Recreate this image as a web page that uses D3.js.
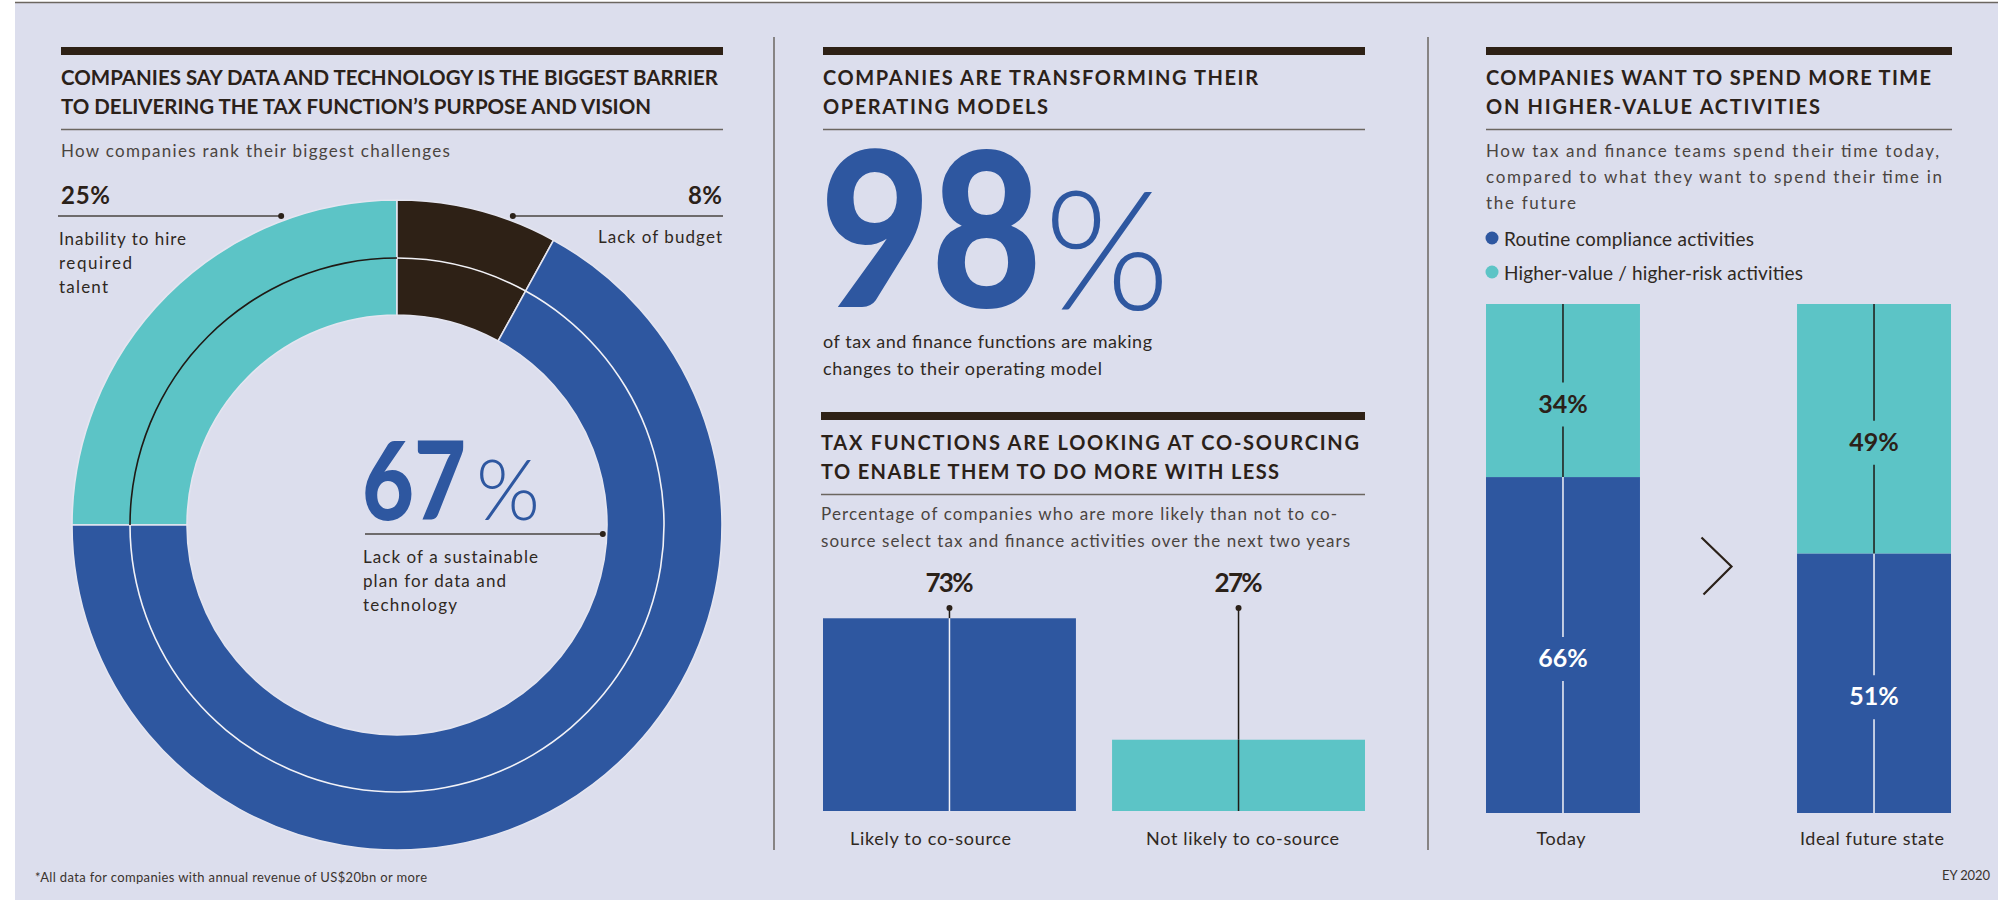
<!DOCTYPE html>
<html>
<head>
<meta charset="utf-8">
<script src="https://cdn.jsdelivr.net/npm/d3@7"></script>
<style>
  html, body { margin: 0; padding: 0; background: #ffffff; }
  svg { display: block; font-family: Lato, "Open Sans", sans-serif; }
</style>
</head>
<body>
<svg id="chart" width="1998" height="900"></svg>
<script>
// ---- Data -------------------------------------------------------------
// Biggest challenges (donut), clockwise from nine o'clock
const challengeLabels = ["Inability to hire required talent", "Lack of budget", "Lack of a sustainable plan for data and technology"];
const challengeValues = [25, 8, 67];

// Operating model headline figure
const operatingModelShare = 98;

// Co-sourcing intentions
const cosourceCategories = ["Likely to co-source", "Not likely to co-source"];
const cosourceValues = [73, 27];

// Time allocation, today vs ideal
const timeCategories = ["Today", "Ideal future state"];
const timeSeries = ["Routine compliance activities", "Higher-value / higher-risk activities"];
const routineShare = [66, 51];
const higherValueShare = [34, 49];

// ---- Styling ----------------------------------------------------------
const BG = "#dcdeed";
const INK = "#2b2119";
const SUB = "#4a443f";
const RULE = "#6b6660";
const BLUE = "#2e57a0";
const TEAL = "#5cc4c6";
const BROWN = "#2e2116";
const SEP = "#e4e5f0";

const svg = d3.select("#chart");

// page backdrop with the hairline along the top
svg.append("rect").attr("x", 15).attr("y", 2).attr("width", 1983).attr("height", 898).attr("fill", BG);
svg.append("line").attr("x1", 15).attr("x2", 1998).attr("y1", 2.5).attr("y2", 2.5)
  .attr("stroke", RULE).attr("stroke-width", 1.5);

function text(g, o) {
  const t = g.append("text")
    .attr("x", o.x).attr("y", o.y)
    .attr("font-size", o.size)
    .attr("font-weight", o.weight || 400)
    .attr("fill", o.fill || INK)
    .attr("text-anchor", o.anchor || "start")
    .text(o.text);
  if (o.w) t.attr("textLength", o.w).attr("lengthAdjust", o.adjust || "spacing");
  if (o.ls) t.attr("letter-spacing", o.ls);
  return t;
}

// section header: heavy bar, two-line caps title, thin rule
function header(g, x0, x1, top, lines, widths, adjust) {
  g.append("rect").attr("x", x0).attr("y", top).attr("width", x1 - x0).attr("height", 8).attr("fill", BROWN);
  lines.forEach((s, i) => text(g, { x: x0, y: top + 38 + i * 29, text: s, size: 20, weight: 700, w: widths[i], adjust }));
  g.append("line").attr("x1", x0).attr("x2", x1).attr("y1", top + 82.5).attr("y2", top + 82.5)
    .attr("stroke", RULE).attr("stroke-width", 1.5);
}

// column dividers
[774, 1428].forEach(x => svg.append("line").attr("x1", x).attr("x2", x).attr("y1", 37).attr("y2", 850)
  .attr("stroke", RULE).attr("stroke-width", 1.5));

// ======================================================================
// Panel 1: donut of challenges
// ======================================================================
const p1 = svg.append("g");
header(p1, 61, 723, 47,
  ["COMPANIES SAY DATA AND TECHNOLOGY IS THE BIGGEST BARRIER", "TO DELIVERING THE TAX FUNCTION\u2019S PURPOSE AND VISION"],
  [657, 590], "spacingAndGlyphs");
text(p1, { x: 61, y: 157, text: "How companies rank their biggest challenges", size: 17, fill: SUB, w: 389 });

const cx = 397, cy = 525, rOuter = 325, rInner = 210, rRing = 267;
const challengeColors = [TEAL, BROWN, BLUE];
const ringColors = ["#1f1a15", "#f2f2f7", "#f2f2f7"];
const pie = d3.pie().sort(null).startAngle(-Math.PI / 2).endAngle(1.5 * Math.PI);
const slices = pie(challengeValues);
const donut = p1.append("g").attr("transform", `translate(${cx},${cy})`);
donut.selectAll("path.slice").data(slices).join("path")
  .attr("class", "slice")
  .attr("d", d3.arc().innerRadius(rInner).outerRadius(rOuter))
  .attr("fill", (d, i) => challengeColors[i])
  .attr("stroke", SEP).attr("stroke-width", 1.6);
donut.selectAll("path.ring").data(slices).join("path")
  .attr("class", "ring")
  .attr("d", d3.arc().innerRadius(rRing - 0.8).outerRadius(rRing + 0.8))
  .attr("fill", (d, i) => ringColors[i]);

// annotations: value, leader line to the ring, wrapped label
const fmtPct = v => v + "%";
const leaderR = rOuter + 5;
const leftY = 216, rightY = 216;
// 25%
text(p1, { x: 61, y: 204, text: fmtPct(challengeValues[0]), size: 24, weight: 700, w: 49 });
const xDot0 = cx - Math.sqrt(leaderR * leaderR - (leftY - cy) ** 2);
p1.append("line").attr("x1", 58).attr("x2", xDot0).attr("y1", leftY).attr("y2", leftY).attr("stroke", "#4a4440").attr("stroke-width", 1.5);
p1.append("circle").attr("cx", xDot0).attr("cy", leftY).attr("r", 3).attr("fill", INK);
[["Inability to hire", 127], ["required", 73], ["talent", 49]].forEach(([s, w], i) =>
  text(p1, { x: 59, y: 245 + i * 24, text: s, size: 17, fill: "#2f2822", w }));
// 8%
text(p1, { x: 722, y: 204, text: fmtPct(challengeValues[1]), size: 24, weight: 700, anchor: "end", w: 34 });
const xDot1 = cx + Math.sqrt(leaderR * leaderR - (rightY - cy) ** 2);
p1.append("line").attr("x1", xDot1).attr("x2", 723).attr("y1", rightY).attr("y2", rightY).attr("stroke", "#4a4440").attr("stroke-width", 1.5);
p1.append("circle").attr("cx", xDot1).attr("cy", rightY).attr("r", 3).attr("fill", INK);
text(p1, { x: 722, y: 243, text: "Lack of budget", size: 17, fill: "#2f2822", anchor: "end", w: 124 });
// 67% in the centre
text(p1, { x: 362, y: 520, text: String(challengeValues[2]), size: 108, weight: 900, fill: BLUE, w: 104, adjust: "spacingAndGlyphs" });
text(p1, { x: 476, y: 520, text: "%", size: 84, weight: 300, fill: BLUE, w: 64, adjust: "spacingAndGlyphs" });
const midY = 534;
const xDot2 = cx + Math.sqrt((rInner - 4) ** 2 - (midY - cy) ** 2);
p1.append("line").attr("x1", 365).attr("x2", xDot2).attr("y1", midY).attr("y2", midY).attr("stroke", "#4a4440").attr("stroke-width", 1.5);
p1.append("circle").attr("cx", xDot2).attr("cy", midY).attr("r", 3).attr("fill", INK);
[["Lack of a sustainable", 175], ["plan for data and", 143], ["technology", 94]].forEach(([s, w], i) =>
  text(p1, { x: 363, y: 563 + i * 24, text: s, size: 17, fill: "#2f2822", w }));

text(p1, { x: 35, y: 882, text: "*All data for companies with annual revenue of US$20bn or more", size: 13, fill: "#3a332d", w: 392 });

// ======================================================================
// Panel 2: headline figure and co-sourcing bars
// ======================================================================
const p2 = svg.append("g");
header(p2, 823, 1365, 47, ["COMPANIES ARE TRANSFORMING THEIR", "OPERATING MODELS"], [435, 225]);
text(p2, { x: 820, y: 307, text: String(operatingModelShare), size: 215, weight: 900, fill: BLUE, w: 222, adjust: "spacingAndGlyphs" });
text(p2, { x: 1044, y: 310, text: "%", size: 166, weight: 300, fill: BLUE, w: 126, adjust: "spacingAndGlyphs" });
text(p2, { x: 823, y: 348, text: "of tax and finance functions are making", size: 18, fill: "#2f2822", w: 329 });
text(p2, { x: 823, y: 375, text: "changes to their operating model", size: 18, fill: "#2f2822", w: 279 });

header(p2, 821, 1365, 412, ["TAX FUNCTIONS ARE LOOKING AT CO-SOURCING", "TO ENABLE THEM TO DO MORE WITH LESS"], [538, 458]);
text(p2, { x: 821, y: 520, text: "Percentage of companies who are more likely than not to co-", size: 17, fill: SUB, w: 516 });
text(p2, { x: 821, y: 547, text: "source select tax and finance activities over the next two years", size: 17, fill: SUB, w: 529 });

const xCo = d3.scaleBand().domain(cosourceCategories).range([823, 1365]).paddingInner(0.125).paddingOuter(0);
const yCo = d3.scaleLinear().domain([0, 100]).range([811, 547]);
const coColors = [BLUE, TEAL];
const coLeadTop = 608;
const coLabelShift = [-19, 4];
const coG = p2.append("g");
coG.selectAll("rect").data(cosourceValues).join("rect")
  .attr("x", (d, i) => xCo(cosourceCategories[i]))
  .attr("width", xCo.bandwidth())
  .attr("y", d => yCo(d))
  .attr("height", d => yCo(0) - yCo(d))
  .attr("fill", (d, i) => coColors[i]);
cosourceValues.forEach((v, i) => {
  const mx = xCo(cosourceCategories[i]) + xCo.bandwidth() / 2;
  const inside = i === 0 ? "#f2f2f7" : "#1f1a15";
  coG.append("line").attr("x1", mx).attr("x2", mx).attr("y1", coLeadTop).attr("y2", yCo(v)).attr("stroke", "#1f1a15").attr("stroke-width", 1.5);
  coG.append("line").attr("x1", mx).attr("x2", mx).attr("y1", yCo(v)).attr("y2", yCo(0)).attr("stroke", inside).attr("stroke-width", 1.5);
  coG.append("circle").attr("cx", mx).attr("cy", coLeadTop).attr("r", 3).attr("fill", INK);
  text(coG, { x: mx, y: 592, text: fmtPct(v), size: 26, weight: 700, anchor: "middle", w: 48 });
  text(coG, { x: mx + coLabelShift[i], y: 845, text: cosourceCategories[i], size: 18, fill: "#2f2822", anchor: "middle", w: [161, 193][i] });
});

// ======================================================================
// Panel 3: stacked time-allocation bars
// ======================================================================
const p3 = svg.append("g");
header(p3, 1486, 1952, 47, ["COMPANIES WANT TO SPEND MORE TIME", "ON HIGHER-VALUE ACTIVITIES"], [445, 334]);
[["How tax and finance teams spend their time today,", 453],
 ["compared to what they want to spend their time in", 456],
 ["the future", 90]].forEach(([s, w], i) => text(p3, { x: 1486, y: 157 + i * 26, text: s, size: 17, fill: SUB, w }));

const seriesColors = [BLUE, TEAL];
timeSeries.forEach((s, i) => {
  const y = 238 + i * 34;
  p3.append("circle").attr("cx", 1492).attr("cy", y).attr("r", 6.5).attr("fill", seriesColors[i]);
  text(p3, { x: 1504, y: y + 8, text: s, size: 19, fill: "#2f2822", w: [250, 299][i] });
});

const timeData = timeCategories.map((c, i) => ({ category: c, routine: routineShare[i], higher: higherValueShare[i] }));
const stack = d3.stack().keys(["routine", "higher"]);
const layers = stack(timeData);
const xT = d3.scaleBand().domain(timeCategories).range([1486, 1951]).paddingInner(0.505).paddingOuter(0);
const yT = d3.scaleLinear().domain([0, 100]).range([813, 304]);
const layerInk = ["#f2f2f7", "#1f1a15"];
const layerText = ["#ffffff", INK];

const tG = p3.append("g");
layers.forEach((layer, li) => {
  tG.append("g").selectAll("rect").data(layer).join("rect")
    .attr("x", d => xT(d.data.category))
    .attr("width", xT.bandwidth())
    .attr("y", d => yT(d[1]))
    .attr("height", d => yT(d[0]) - yT(d[1]))
    .attr("fill", seriesColors[li]);
});
layers.forEach((layer, li) => {
  layer.forEach(d => {
    const mx = xT(d.data.category) + xT.bandwidth() / 2;
    const top = yT(d[1]), bot = yT(d[0]);
    const base = (top + bot) / 2 + 22;
    const gapTop = base - 30, gapBot = base + 14;
    [[top, gapTop], [gapBot, bot]].forEach(([a, b]) =>
      tG.append("line").attr("x1", mx).attr("x2", mx).attr("y1", a).attr("y2", b)
        .attr("stroke", layerInk[li]).attr("stroke-width", 1.5));
    text(tG, { x: mx, y: base, text: fmtPct(d[1] - d[0]), size: 25, weight: 700, fill: layerText[li], anchor: "middle" });
  });
});
timeCategories.forEach((c, i) =>
  text(p3, { x: xT(c) + xT.bandwidth() / 2 - 2, y: 845, text: c, size: 18, fill: "#2f2822", anchor: "middle", w: [49, 144][i] }));

// chevron between the two bars
const chevX = (xT(timeCategories[0]) + xT.bandwidth() + xT(timeCategories[1])) / 2 - 2;
const chevY = yT(50) + 8;
p3.append("path")
  .attr("d", `M${chevX - 15},${chevY - 29} L${chevX + 15},${chevY} L${chevX - 13},${chevY + 28}`)
  .attr("fill", "none").attr("stroke", INK).attr("stroke-width", 2.2);

text(svg, { x: 1990, y: 880, text: "EY 2020", size: 13, fill: "#3a332d", anchor: "end", w: 48 });
</script>
</body>
</html>
